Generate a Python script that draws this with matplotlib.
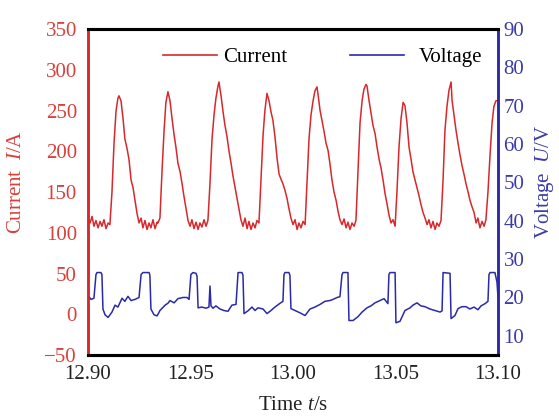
import matplotlib.pyplot as plt
from matplotlib.lines import Line2D

plt.rcParams['font.family'] = ['Liberation Serif', 'DejaVu Serif']
plt.rcParams['mathtext.fontset'] = 'custom'
plt.rcParams['mathtext.it'] = 'Liberation Serif:italic'
plt.rcParams['mathtext.rm'] = 'Liberation Serif'

# current waveform, time in s and current in A
cur_t = [12.9000, 12.9010, 12.9020, 12.9029, 12.9039, 12.9049, 12.9059, 12.9068, 12.9078, 12.9088,
         12.9098, 12.9107, 12.9117, 12.9127, 12.9137, 12.9146, 12.9151, 12.9161, 12.9171, 12.9180,
         12.9190, 12.9200, 12.9210, 12.9220, 12.9229, 12.9239, 12.9249, 12.9259, 12.9268, 12.9278,
         12.9288, 12.9298, 12.9307, 12.9317, 12.9327, 12.9337, 12.9341, 12.9351, 12.9361, 12.9371,
         12.9380, 12.9390, 12.9400, 12.9410, 12.9420, 12.9429, 12.9439, 12.9449, 12.9459, 12.9468,
         12.9478, 12.9488, 12.9498, 12.9507, 12.9517, 12.9527, 12.9537, 12.9546, 12.9556, 12.9566,
         12.9576, 12.9585, 12.9595, 12.9605, 12.9615, 12.9624, 12.9634, 12.9639, 12.9649, 12.9659,
         12.9668, 12.9678, 12.9688, 12.9698, 12.9707, 12.9717, 12.9727, 12.9737, 12.9746, 12.9756,
         12.9766, 12.9776, 12.9785, 12.9795, 12.9805, 12.9815, 12.9824, 12.9834, 12.9844, 12.9854,
         12.9863, 12.9873, 12.9883, 12.9893, 12.9902, 12.9912, 12.9922, 12.9932, 12.9941, 12.9951,
         12.9961, 12.9971, 12.9980, 12.9990, 13.0000, 13.0010, 13.0020, 13.0029, 13.0039, 13.0049,
         13.0059, 13.0068, 13.0078, 13.0088, 13.0098, 13.0107, 13.0117, 13.0122, 13.0132, 13.0141,
         13.0151, 13.0161, 13.0171, 13.0180, 13.0190, 13.0200, 13.0210, 13.0220, 13.0229, 13.0239,
         13.0249, 13.0259, 13.0268, 13.0278, 13.0288, 13.0298, 13.0307, 13.0317, 13.0327, 13.0337,
         13.0346, 13.0356, 13.0361, 13.0371, 13.0380, 13.0390, 13.0400, 13.0410, 13.0420, 13.0429,
         13.0439, 13.0449, 13.0459, 13.0468, 13.0478, 13.0488, 13.0498, 13.0507, 13.0517, 13.0527,
         13.0537, 13.0546, 13.0556, 13.0566, 13.0576, 13.0585, 13.0595, 13.0605, 13.0615, 13.0624,
         13.0634, 13.0644, 13.0654, 13.0663, 13.0673, 13.0683, 13.0693, 13.0702, 13.0712, 13.0722,
         13.0732, 13.0741, 13.0751, 13.0761, 13.0771, 13.0776, 13.0785, 13.0795, 13.0805, 13.0815,
         13.0824, 13.0834, 13.0844, 13.0854, 13.0863, 13.0873, 13.0883, 13.0893, 13.0902, 13.0912,
         13.0922, 13.0932, 13.0941, 13.0951, 13.0961, 13.0971, 13.0980, 13.0990, 13.1000]
cur_a = [118, 112, 120, 108, 115, 106, 114, 108, 116, 105,
         112, 110, 150, 210, 250, 265, 268, 262, 240, 215,
         204, 190, 165, 155, 140, 124, 112, 118, 106, 115,
         104, 112, 106, 116, 105, 113, 112, 118, 175, 225,
         260, 273, 262, 240, 220, 205, 185, 175, 160, 145,
         130, 115, 108, 116, 105, 113, 104, 112, 107, 116,
         108, 115, 160, 215, 245, 265, 280, 285, 268, 248,
         232, 218, 200, 185, 170, 156, 142, 128, 116, 108,
         118, 105, 114, 104, 112, 106, 115, 112, 165, 220,
         250, 271, 262, 248, 238, 218, 192, 172, 166, 160,
         152, 142, 130, 118, 110, 116, 104, 112, 106, 114,
         110, 160, 215, 245, 262, 274, 279, 270, 250, 238,
         225, 210, 201, 185, 165, 150, 140, 126, 116, 110,
         117, 106, 113, 104, 112, 108, 115, 175, 235, 262,
         276, 282, 280, 262, 248, 232, 222, 205, 190, 180,
         165, 148, 135, 122, 112, 116, 108, 150, 205, 240,
         260, 256, 235, 205, 190, 175, 165, 155, 145, 135,
         125, 118, 110, 116, 106, 114, 104, 112, 108, 115,
         165, 225, 255, 275, 285, 262, 245, 226, 210, 195,
         183, 172, 160, 150, 140, 132, 125, 112, 118, 106,
         114, 108, 116, 150, 195, 235, 255, 262, 262]

# arc voltage, time in s and voltage in V
volt_t = [12.9000, 12.9015, 12.9029, 12.9039, 12.9044, 12.9063, 12.9068, 12.9073, 12.9083, 12.9098,
          12.9117, 12.9132, 12.9146, 12.9166, 12.9180, 12.9195, 12.9210, 12.9229, 12.9249, 12.9259,
          12.9268, 12.9298, 12.9302, 12.9307, 12.9322, 12.9337, 12.9351, 12.9376, 12.9390, 12.9400,
          12.9420, 12.9439, 12.9463, 12.9483, 12.9493, 12.9502, 12.9512, 12.9527, 12.9532, 12.9537,
          12.9556, 12.9576, 12.9590, 12.9595, 12.9600, 12.9610, 12.9624, 12.9644, 12.9663, 12.9683,
          12.9702, 12.9722, 12.9732, 12.9751, 12.9756, 12.9761, 12.9780, 12.9800, 12.9815, 12.9829,
          12.9854, 12.9873, 12.9888, 12.9912, 12.9937, 12.9951, 12.9956, 12.9961, 12.9980, 12.9985,
          12.9990, 13.0010, 13.0034, 13.0059, 13.0083, 13.0107, 13.0132, 13.0156, 13.0180, 13.0195,
          13.0215, 13.0229, 13.0239, 13.0244, 13.0268, 13.0273, 13.0293, 13.0317, 13.0337, 13.0361,
          13.0380, 13.0400, 13.0424, 13.0444, 13.0463, 13.0468, 13.0473, 13.0498, 13.0502, 13.0522,
          13.0546, 13.0571, 13.0585, 13.0605, 13.0624, 13.0644, 13.0668, 13.0693, 13.0717, 13.0727,
          13.0732, 13.0766, 13.0771, 13.0790, 13.0805, 13.0824, 13.0844, 13.0863, 13.0883, 13.0902,
          13.0917, 13.0937, 13.0951, 13.0956, 13.0961, 13.0985, 13.0995, 13.1000]
volt_v = [20.5, 19.5, 19.8, 26.0, 26.5, 26.5, 26.0, 17.0, 15.5, 14.8,
          16.2, 18.0, 17.5, 19.8, 19.0, 20.3, 19.2, 19.5, 20.0, 26.0,
          26.5, 26.5, 25.8, 17.0, 15.5, 15.2, 16.6, 18.0, 18.5, 19.2,
          18.6, 19.7, 20.0, 20.0, 19.5, 26.0, 26.5, 26.3, 25.5, 17.3,
          17.5, 17.2, 17.5, 23.0, 17.8, 17.2, 17.8, 17.0, 16.6, 16.4,
          18.0, 18.2, 26.5, 26.5, 25.8, 15.8, 16.5, 17.5, 16.6, 17.3,
          17.0, 15.8, 16.4, 17.5, 18.5, 19.0, 26.0, 26.5, 26.5, 25.8,
          17.1, 16.6, 16.0, 15.3, 17.0, 17.5, 18.2, 19.0, 19.2, 19.5,
          20.0, 20.2, 26.0, 26.5, 26.5, 14.0, 14.0, 15.0, 16.2, 17.3,
          17.8, 18.6, 19.2, 19.7, 18.4, 26.0, 26.5, 26.5, 13.4, 13.8,
          16.6, 17.3, 18.0, 18.6, 17.8, 17.6, 17.0, 16.6, 16.2, 16.5,
          26.5, 26.3, 14.5, 15.3, 17.1, 17.6, 17.6, 17.0, 17.5, 16.8,
          17.8, 18.4, 19.0, 26.0, 26.5, 26.5, 24.0, 20.0]

x_ticks = [12.90, 12.95, 13.00, 13.05, 13.10]
x_ticklabels = ['12.90', '12.95', '13.00', '13.05', '13.10']
cur_ticks = [-50, 0, 50, 100, 150, 200, 250, 300, 350]
volt_ticks = [10, 20, 30, 40, 50, 60, 70, 80, 90]

red = '#d8282c'
blue = '#2a2aa8'
red_txt = '#d9403a'
blue_txt = '#3c3ca8'

fig = plt.figure(figsize=(5.59, 4.16), dpi=100)
ax = fig.add_axes([0.1574, 0.1466, 0.7335, 0.7837])
ax2 = ax.twinx()

ax.plot(cur_t, cur_a, color=red, lw=1.1)
ax2.plot(volt_t, volt_v, color=blue, lw=1.1)

ax.set_xlim(12.90, 13.10)
ax.set_ylim(-50, 350)
ax2.set_ylim(5, 90)

ax.set_xticks(x_ticks)
ax.set_xticklabels(x_ticklabels)
ax.set_yticks(cur_ticks)
ax2.set_yticks(volt_ticks)

fs = 15
ax.tick_params(axis='x', length=0, pad=7, labelsize=fs, labelcolor='#222222')
ax.tick_params(axis='y', length=0, pad=8, labelsize=fs, labelcolor=red_txt)
ax2.tick_params(axis='y', length=0, pad=4, labelsize=fs, labelcolor=blue_txt)

for a in (ax, ax2):
    a.spines['top'].set_linewidth(2.2)
    a.spines['bottom'].set_linewidth(2.2)
    a.spines['top'].set_color('black')
    a.spines['bottom'].set_color('black')
    a.spines['left'].set_color(red)
    a.spines['left'].set_linewidth(1.8)
    a.spines['right'].set_color(blue)
    a.spines['right'].set_linewidth(1.8)

ax.set_xlabel('Time $t$/s', fontsize=15, color='#222222')
ax.xaxis.set_label_coords(0.5, -0.125)
ax.set_ylabel('Current  $I$/A', fontsize=15, color=red_txt)
ax.yaxis.set_label_coords(-0.15, 0.53)
ax2.set_ylabel('Voltage  $U$/V', fontsize=15, color=blue_txt)
ax2.yaxis.set_label_coords(1.085, 0.53)

leg1 = ax2.legend([Line2D([], [], color=red, lw=1.2)], ['Current'], loc='center left',
                  bbox_to_anchor=(0.183, 0.914), frameon=False, fontsize=15,
                  handlelength=2.6, handletextpad=0.3, borderpad=0, borderaxespad=0)
ax2.add_artist(leg1)
ax2.legend([Line2D([], [], color=blue, lw=1.2)], ['Voltage'], loc='center left',
           bbox_to_anchor=(0.639, 0.914), frameon=False, fontsize=15,
           handlelength=2.6, handletextpad=0.7, borderpad=0, borderaxespad=0)

fig.savefig('out.png', dpi=100)
